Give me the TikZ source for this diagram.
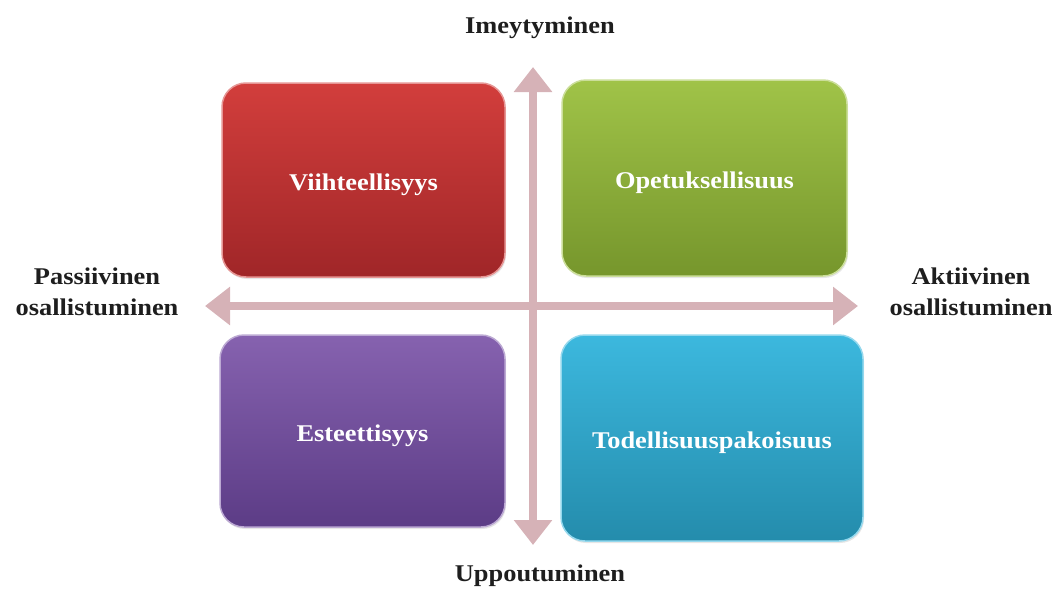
\documentclass[tikz,border=0pt]{standalone}
\usepackage{fontspec}
\setmainfont{Liberation Serif}[FakeStretch=1.1]
\usetikzlibrary{arrows.meta,shadows}
\definecolor{axiscol}{HTML}{D6B2B7}
\definecolor{labcol}{HTML}{1E1E1E}
\definecolor{redtop}{RGB}{210,62,60}
\definecolor{redbot}{RGB}{160,38,40}
\definecolor{greentop}{RGB}{160,195,72}
\definecolor{greenbot}{RGB}{118,150,44}
\definecolor{purptop}{RGB}{134,98,175}
\definecolor{purpbot}{RGB}{92,60,134}
\definecolor{cyantop}{RGB}{60,184,222}
\definecolor{cyanbot}{RGB}{36,140,172}
\begin{document}
\begin{tikzpicture}[x=1pt,y=-1pt,
  box/.style={rounded corners=24pt, text=white, font=\fontsize{24}{30}\selectfont\bfseries,
    text height=25pt, text depth=5pt,
    top color=#1top, bottom color=#1bot, draw=#1top!55!white, line width=1.5pt,
    drop shadow={opacity=0.2,shadow xshift=1pt,shadow yshift=-2pt}},
  axislabel/.style={text=labcol, font=\fontsize{24}{31}\selectfont\bfseries, align=center},
  axis/.style={draw=axiscol, line width=8pt, {Triangle[length=25pt,width=37pt]}-{Triangle[length=25pt,width=37pt]}}
]
\useasboundingbox (0,0) rectangle (1054,589);
% axes
\coordinate (left) at (205,306);
\coordinate (right) at (858,306);
\coordinate (top) at (533,67);
\coordinate (bottom) at (533,545);
\draw[axis] (left) -- (right);
\draw[axis] (top) -- (bottom);
% boxes
\node[box=red, minimum width=283pt, minimum height=194pt] (vii) at (363.5,180) {Viihteellisyys};
\node[box=green, minimum width=285pt, minimum height=196pt] (ope) at (704.5,178) {Opetuksellisuus};
\node[box=purp, minimum width=285pt, minimum height=192pt] (est) at (362.5,431) {Esteettisyys};
\node[box=cyan, minimum width=302pt, minimum height=206pt] (tod) at (712,438) {Todellisuuspakoisuus};
% axis labels
\node[axislabel] (ime) at (540,28) {Imeytyminen};
\node[axislabel] (upp) at (540,576) {Uppoutuminen};
\node[axislabel] (pas) at (97,292) {Passiivinen\\osallistuminen};
\node[axislabel] (akt) at (971,292) {Aktiivinen\\osallistuminen};
\end{tikzpicture}
\end{document}
